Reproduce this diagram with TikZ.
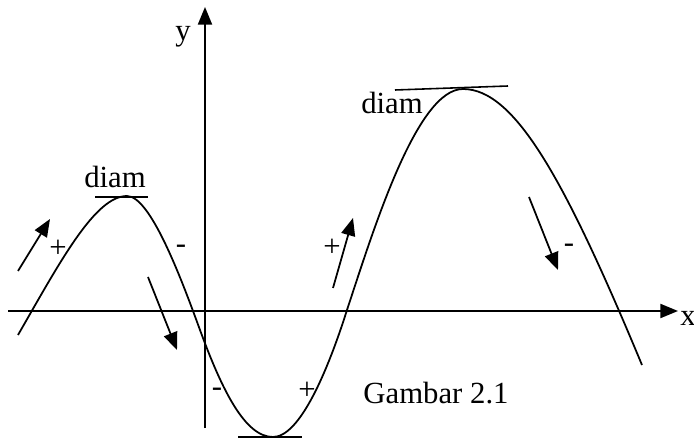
\documentclass[tikz,border=0pt]{standalone}
\usepackage{fontspec}
\setmainfont{Liberation Serif}
\usetikzlibrary{arrows.meta}

\begin{document}
\begin{tikzpicture}[x=0.02cm, y=-0.02cm, >={Triangle[length=10pt,width=8pt]},
  every node/.style={font=\fontsize{17.5}{21}\selectfont, inner sep=0pt},
  curve/.style={line width=1pt},
  tangent/.style={line width=0.9pt},
  move/.style={->, line width=1pt}]
  \useasboundingbox (0,0) rectangle (694,439);
  % axes
  \coordinate (xstart) at (8,311);
  \coordinate (xend) at (678,311);
  \coordinate (ystart) at (205,428);
  \coordinate (yend) at (205,7);
  \draw[move] (xstart) -- (xend);
  \draw[move] (ystart) -- (yend);
  \node (xlab) at (688,318) {x};
  \node (ylab) at (183,37) {y};
  % the curve
  \coordinate (cstart) at (18,335);
  \coordinate (peak1) at (127,196);
  \coordinate (bend1) at (200,330);
  \coordinate (low) at (273,437);
  \coordinate (bend2) at (347,310);
  \coordinate (peak2) at (463,89);
  \coordinate (cend) at (642,365);
  \draw[curve] (cstart) .. controls (60,262) and (95,196) .. (peak1)
    .. controls (150,196) and (180,275) .. (bend1)
    .. controls (222,390) and (245,437) .. (low)
    .. controls (300,437) and (328,370) .. (bend2)
    .. controls (374,228) and (417,89) .. (peak2)
    .. controls (515,89) and (565,180) .. (cend);
  % stationary points
  \coordinate (top1l) at (95,197);
  \coordinate (top1r) at (148,197);
  \coordinate (top2l) at (395,90);
  \coordinate (top2r) at (508,86);
  \coordinate (lowl) at (238,437);
  \coordinate (lowr) at (302,437);
  \draw[tangent] (top1l) -- (top1r);
  \draw[tangent] (top2l) -- (top2r);
  \draw[tangent] (lowl) -- (lowr);
  \node (diam1) at (115,177) {diam};
  \node (diam2) at (392,103) {diam};
  % direction arrows
  \coordinate (up1a) at (18,271);
  \coordinate (up1b) at (50,219);
  \coordinate (down1a) at (148,277);
  \coordinate (down1b) at (177,350);
  \coordinate (up2a) at (333,288);
  \coordinate (up2b) at (353,218);
  \coordinate (down2a) at (529,197);
  \coordinate (down2b) at (558,270);
  \draw[move] (up1a) -- (up1b);
  \draw[move] (down1a) -- (down1b);
  \draw[move] (up2a) -- (up2b);
  \draw[move] (down2a) -- (down2b);
  % signs
  \node (plus1) at (58,249) {+};
  \node (minus1) at (181,249) {-};
  \node (plus2) at (332,248) {+};
  \node (minus2) at (569,248) {-};
  \node (minus3) at (217,392) {-};
  \node (plus3) at (307,391) {+};
  \node (caption) at (436,393) {Gambar 2.1};
\end{tikzpicture}
\end{document}
